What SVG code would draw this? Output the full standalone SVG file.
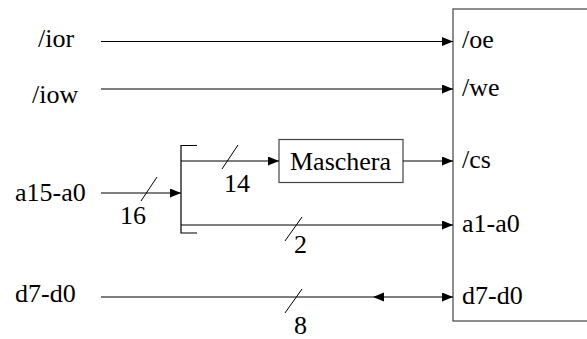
<svg xmlns="http://www.w3.org/2000/svg" width="587" height="339" viewBox="0 0 587 339">
  <style>
    text { font-family: "Liberation Serif", "Times New Roman", Times, "DejaVu Serif", serif; font-size: 26px; fill: #000; }
    .wire { stroke: #000; stroke-width: 1.2; fill: none; }
    .arrow { marker-end: url(#head); }
    .slash { stroke: #000; stroke-width: 1; }
    .box { fill: #fff; stroke: #444; stroke-width: 1.2; }
  </style>
  <defs>
    <marker id="head" markerUnits="userSpaceOnUse" markerWidth="11" markerHeight="9" refX="11" refY="4.5" orient="auto">
      <path d="M0,0 L11,4.5 L0,9 z" fill="#000"/>
    </marker>
  </defs>

  <rect width="587" height="339" fill="#fff"/>

  <!-- memory device -->
  <g id="memory">
    <rect class="box" x="453" y="9" width="200" height="312"/>
    <text x="462" y="48">/oe</text>
    <text x="462" y="96">/we</text>
    <text x="462" y="168">/cs</text>
    <text x="462" y="232">a1-a0</text>
    <text x="462" y="304">d7-d0</text>
  </g>

  <!-- address mask -->
  <g id="maschera">
    <rect class="box" x="279" y="139.5" width="124" height="43"/>
    <text x="290" y="170">Maschera</text>
  </g>

  <!-- input signal names -->
  <g id="ior"><text x="38" y="47">/ior</text></g>
  <g id="iow"><text x="32" y="103">/iow</text></g>
  <g id="a15-a0"><text x="15" y="201">a15-a0</text></g>
  <g id="d7-d0"><text x="15" y="302">d7-d0</text></g>

  <!-- connectors -->
  <g id="connectors">
    <line class="wire arrow" x1="101" y1="41.5" x2="453" y2="41.5"/>
    <line class="wire arrow" x1="101" y1="89" x2="453" y2="89"/>
    <line class="wire arrow" x1="101" y1="193" x2="181" y2="193"/>
    <!-- bus split bracket -->
    <path class="wire" d="M197,145.5 H181 V233 H197"/>
    <line class="wire arrow" x1="181" y1="161" x2="279" y2="161"/>
    <line class="wire arrow" x1="403" y1="161" x2="453" y2="161"/>
    <line class="wire arrow" x1="181" y1="225" x2="453" y2="225"/>
    <line class="wire arrow" x1="101" y1="297" x2="453" y2="297"/>
    <polygon points="373,297 384,292.5 384,301.5" fill="#000"/>

    <!-- bus width marks -->
    <line class="slash" x1="141" y1="201" x2="157" y2="177"/>
    <line class="slash" x1="222" y1="169" x2="238" y2="145"/>
    <line class="slash" x1="285" y1="241" x2="302" y2="217"/>
    <line class="slash" x1="285" y1="313" x2="302" y2="289"/>
    <text x="120" y="224">16</text>
    <text x="224" y="192">14</text>
    <text x="294" y="253">2</text>
    <text x="294" y="334">8</text>
  </g>
</svg>
